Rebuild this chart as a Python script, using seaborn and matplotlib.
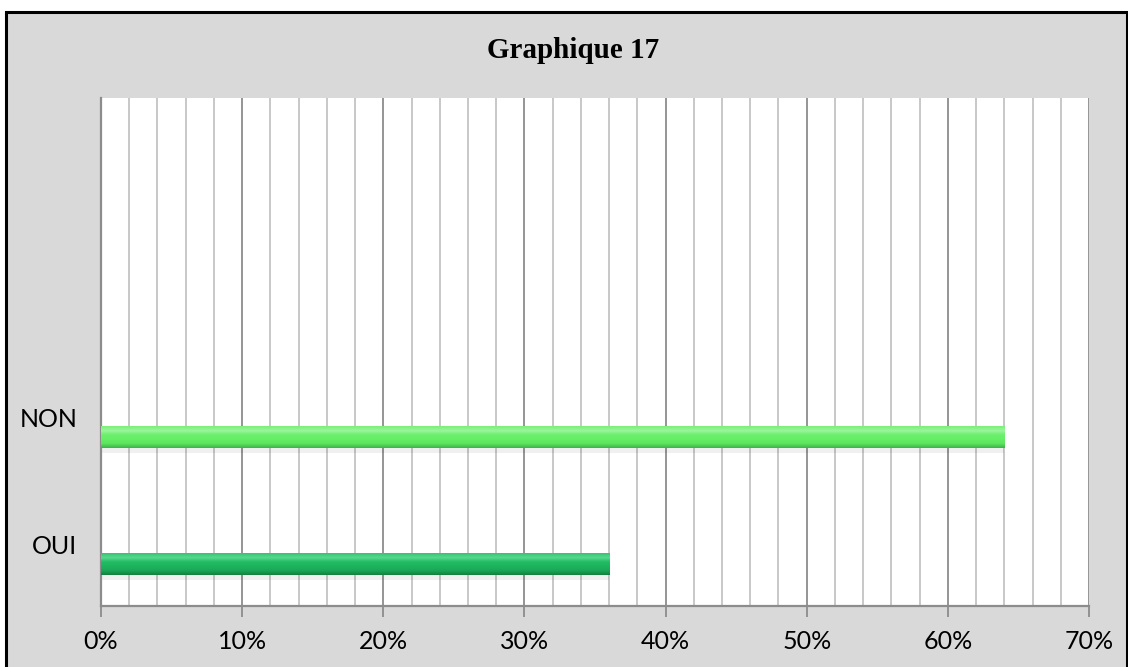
import numpy as np
import pandas as pd
import matplotlib
matplotlib.use("Agg")
import matplotlib.pyplot as plt
from matplotlib.patches import Rectangle
from matplotlib.colors import LinearSegmentedColormap
import seaborn as sns

# ---- data ----
categories = ["NON", "OUI"]
values = [0.64, 0.36]
bar_colors = ["#62EC62", "#1DB45E"]
x_tick_values = [0.0, 0.1, 0.2, 0.3, 0.4, 0.5, 0.6, 0.7]
x_tick_labels = ["0%", "10%", "20%", "30%", "40%", "50%", "60%", "70%"]
title = "Graphique 17"

sns.set_theme(style="white")
plt.rcParams["font.family"] = ["Lato", "DejaVu Sans"]

fig = plt.figure(figsize=(11.28, 6.67), dpi=100)
fig.patch.set_facecolor("white")
# outer chart area (grey with black frame)
W, H = 1128, 667
frame = Rectangle((6 / W, -0.05), (1127 - 6) / W, (H - 12) / H + 0.05,
                  transform=fig.transFigure, facecolor="#D9D9D9",
                  edgecolor="black", linewidth=2.2, zorder=-10)
fig.patches.append(frame)

ax = fig.add_axes([101 / W, (H - 606) / H, (1089 - 101) / W, (606 - 98) / H])
ax.set_zorder(5)
ax.set_facecolor("white")

df = pd.DataFrame({"cat": categories, "val": values})
sns.barplot(data=df, x="val", y="cat", hue="cat", palette=bar_colors,
            orient="h", width=0.173, legend=False, ax=ax, zorder=3,
            linewidth=0)

# gradient shading for the bevelled Excel-style bars (top -> bottom)
grads = {
    0: ["#7AEF7A", "#9CF59C", "#6CEF6C", "#66EE66", "#5EE45E", "#3DB24A"],
    1: ["#34C472", "#5AD890", "#22BC64", "#1DB45E", "#1AA855", "#12813F"],
}
for i, p in enumerate(list(ax.patches)):
    x0, y0 = p.get_x(), p.get_y()
    w, h = p.get_width(), p.get_height()
    cmap = LinearSegmentedColormap.from_list("g%d" % i, grads[i])
    grad = np.linspace(0, 1, 64).reshape(-1, 1)
    im = ax.imshow(grad, cmap=cmap, aspect="auto",
                   extent=(x0, x0 + w, y0 + h, y0), origin="upper",
                   zorder=4, interpolation="bilinear")
    im.set_clip_path(p)
    # soft shadow under the bar
    ax.add_patch(Rectangle((x0, y0 + h), w, h * 0.22, facecolor="#000000",
                           alpha=0.06, linewidth=0, zorder=2))

ax.set_xlim(0, 0.7)
ax.set_ylim(1.331, -2.669)

# gridlines: minor every 2 %, major every 10 %
ax.set_xticks(x_tick_values)
ax.set_xticklabels(x_tick_labels, fontsize=18, color="black")
ax.set_xticks(np.arange(0, 0.7001, 0.02), minor=True)
ax.grid(False)
for xv in np.arange(0.02, 0.7, 0.02):
    if abs(round(xv * 50) % 5) == 0:
        ax.axvline(xv, color="#8C8C8C", linewidth=1.3, zorder=1)
    else:
        ax.axvline(xv, color="#C4C4C4", linewidth=1.3, zorder=1)

ax.set_yticks([-0.15, 0.85])
ax.set_yticklabels(categories, fontsize=18, color="black")
ax.tick_params(axis="y", length=0, pad=17)
ax.tick_params(axis="x", which="major", direction="out", length=8,
               width=1.3, color="#8C8C8C", pad=9, bottom=True)
ax.tick_params(axis="x", which="minor", length=0)

for s in ["top", "right"]:
    ax.spines[s].set_visible(False)
for s in ["left", "bottom"]:
    ax.spines[s].set_visible(True)
    ax.spines[s].set_color("#8C8C8C")
    ax.spines[s].set_linewidth(1.6)
ax.axvline(0.7, color="#8C8C8C", linewidth=1.3, zorder=1)

ax.set_xlabel("")
ax.set_ylabel("")

fig.text(573 / W, 1 - 50 / H, title, ha="center", va="center", color="black",
         fontsize=21, fontweight="bold", family=["Liberation Serif", "DejaVu Serif"])

fig.savefig("out.png", dpi=100)
